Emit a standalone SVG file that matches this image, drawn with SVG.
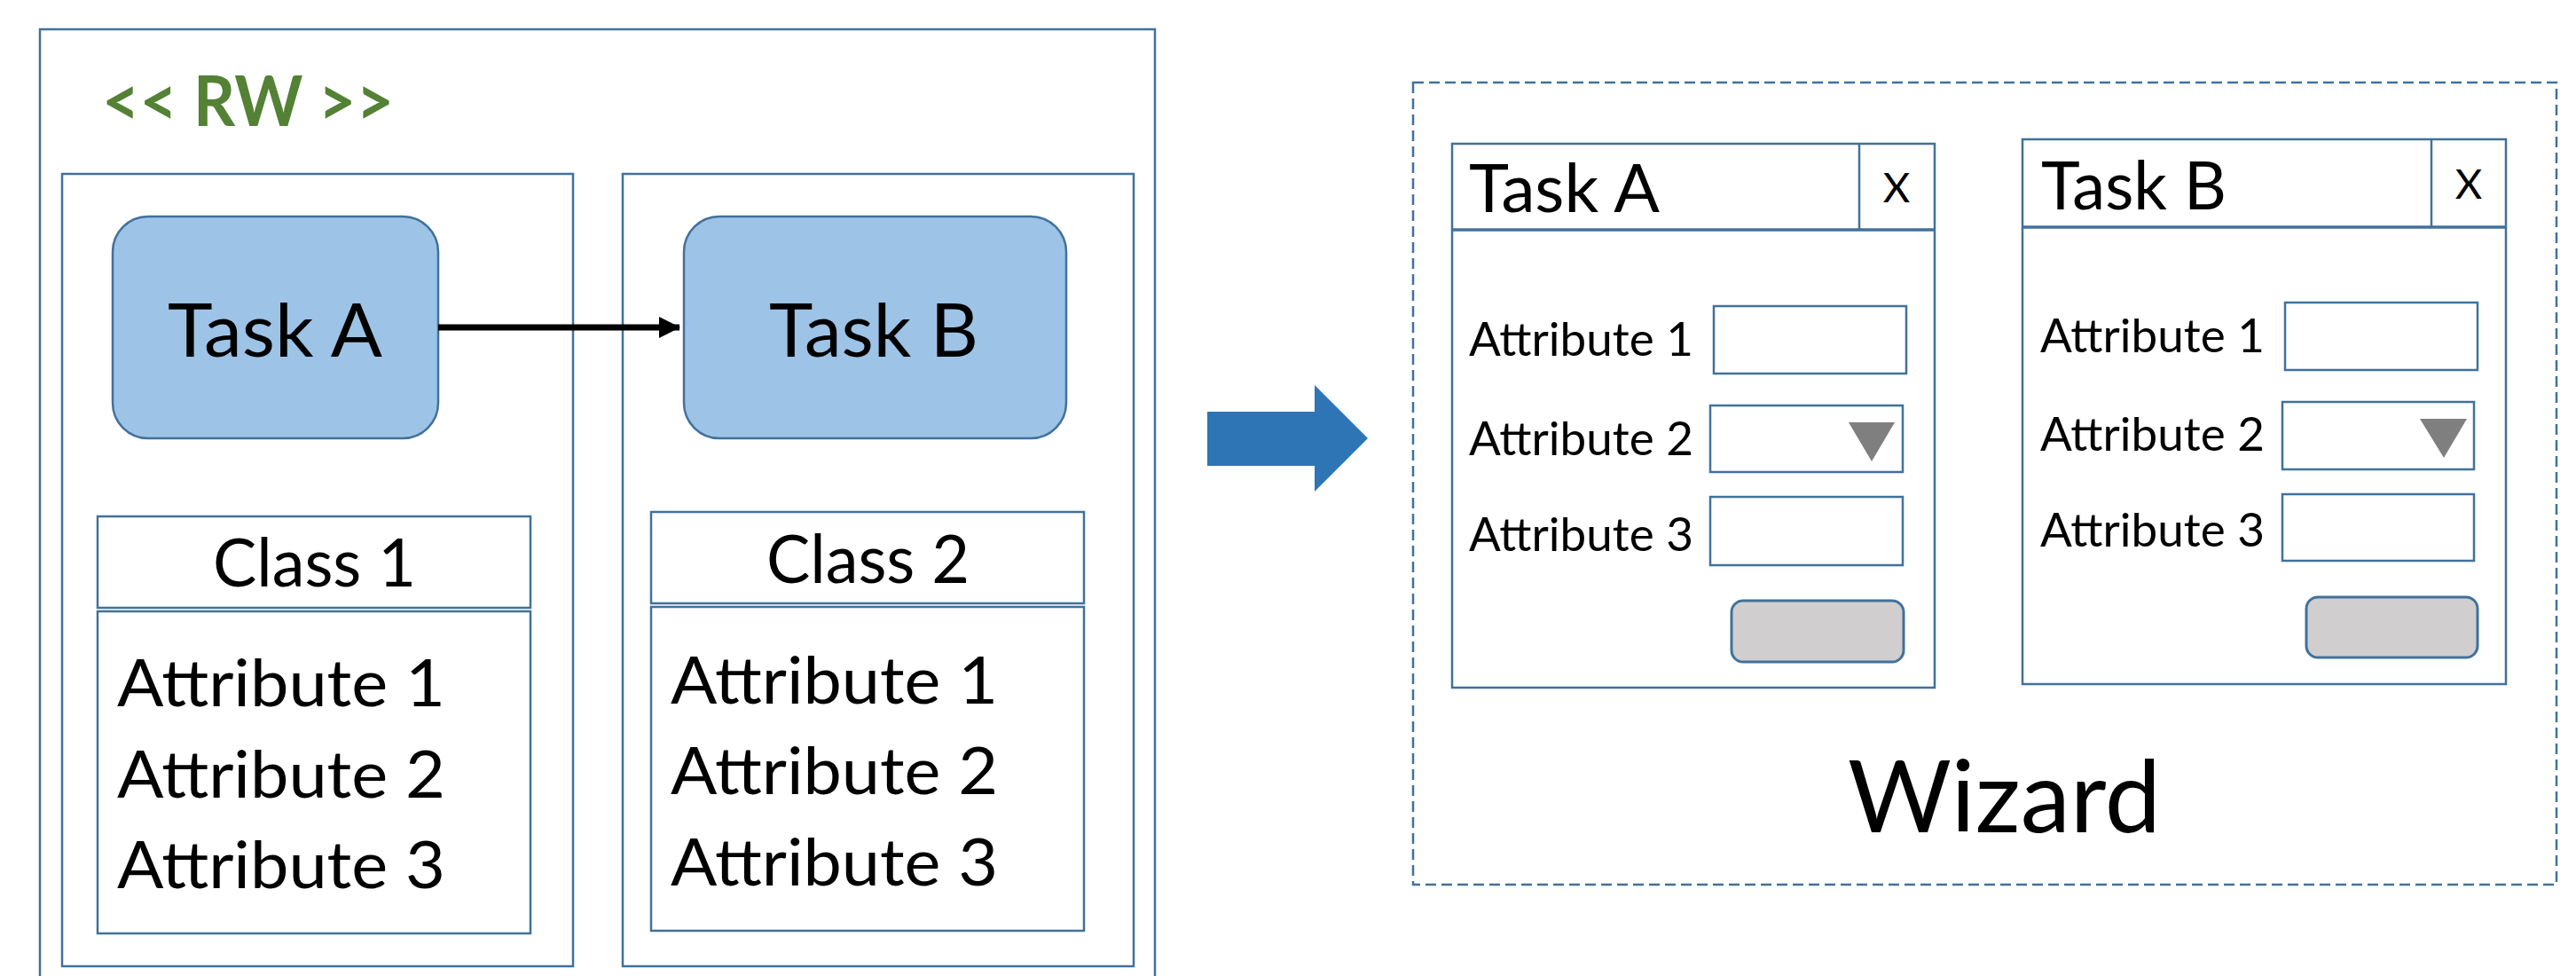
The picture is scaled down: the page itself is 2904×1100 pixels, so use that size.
<svg xmlns="http://www.w3.org/2000/svg" width="2904" height="1100" viewBox="0 0 2904 1100">
  <style>
    .frame { fill: #ffffff; stroke: #41719C; stroke-width: 2.5; }
    .task { fill: #9DC3E6; stroke: #41719C; stroke-width: 2.5; }
    .dash { fill: none; stroke: #41719C; stroke-width: 2.5; stroke-dasharray: 12 6; }
    .btn { fill: #D0CECE; stroke: #41719C; stroke-width: 3; }
    .tri { fill: #7F7F7F; }
    .t { font-family: Lato, "Liberation Sans", sans-serif; fill: #000000; }
    .rw { font-family: Lato, "Liberation Sans", sans-serif; font-weight: bold; fill: #538135; }
  </style>
  <defs>
    <marker id="head" viewBox="0 0 24 24" refX="23" refY="12" markerWidth="24" markerHeight="24" markerUnits="userSpaceOnUse" orient="auto">
      <path d="M0,0 L24,12 L0,24 Z" fill="#000000"/>
    </marker>
  </defs>

  <rect width="2904" height="1100" fill="#ffffff"/>

  <!-- RW container -->
  <g id="rw">
    <rect class="frame" x="45" y="33" width="1257" height="1090"/>
    <text class="rw" x="115" y="142" font-size="78" textLength="329" lengthAdjust="spacingAndGlyphs">&lt;&lt; RW &gt;&gt;</text>
  </g>

  <!-- left column -->
  <g id="column-a">
    <rect class="frame" x="70" y="196" width="576" height="893"/>
  </g>
  <g id="column-b">
    <rect class="frame" x="702" y="196" width="576" height="893"/>
  </g>

  <g id="task-a">
    <rect class="task" x="127" y="244" width="367" height="250" rx="40" ry="40"/>
    <text class="t" x="189" y="402" font-size="84" textLength="242" lengthAdjust="spacingAndGlyphs">Task A</text>
  </g>
  <g id="task-b">
    <rect class="task" x="771" y="244" width="431" height="250" rx="40" ry="40"/>
    <text class="t" x="867" y="402" font-size="84" textLength="236" lengthAdjust="spacingAndGlyphs">Task B</text>
  </g>

  <g id="class-1">
    <rect class="frame" x="110" y="582" width="488" height="103"/>
    <rect class="frame" x="110" y="689" width="488" height="363"/>
    <text class="t" x="240" y="661" font-size="75" textLength="229" lengthAdjust="spacingAndGlyphs">Class 1</text>
    <text class="t" x="132" y="796" font-size="73" textLength="370" lengthAdjust="spacingAndGlyphs">Attribute 1</text>
    <text class="t" x="132" y="899" font-size="73" textLength="370" lengthAdjust="spacingAndGlyphs">Attribute 2</text>
    <text class="t" x="132" y="1001" font-size="73" textLength="370" lengthAdjust="spacingAndGlyphs">Attribute 3</text>
  </g>
  <g id="class-2">
    <rect class="frame" x="734" y="577" width="488" height="103"/>
    <rect class="frame" x="734" y="684" width="488" height="365"/>
    <text class="t" x="864" y="657" font-size="75" textLength="229" lengthAdjust="spacingAndGlyphs">Class 2</text>
    <text class="t" x="756" y="793" font-size="73" textLength="369" lengthAdjust="spacingAndGlyphs">Attribute 1</text>
    <text class="t" x="756" y="895" font-size="73" textLength="369" lengthAdjust="spacingAndGlyphs">Attribute 2</text>
    <text class="t" x="756" y="998" font-size="73" textLength="369" lengthAdjust="spacingAndGlyphs">Attribute 3</text>
  </g>

  <!-- connectors -->
  <g id="connectors">
    <line x1="494" y1="369" x2="766" y2="369" stroke="#000000" stroke-width="7" marker-end="url(#head)"/>
    <path id="transform-arrow" d="M1361,464 L1482,464 L1482,434 L1542,494 L1482,554 L1482,525 L1361,525 Z" fill="#2E75B6"/>
  </g>

  <!-- wizard area -->
  <g id="wizard">
    <rect class="dash" x="1593" y="93" width="1289" height="904"/>
    <text class="t" x="2083" y="938" font-size="112" textLength="353" lengthAdjust="spacingAndGlyphs">Wizard</text>
  </g>

  <g id="dialog-a">
    <rect class="frame" x="1637" y="162" width="544" height="613"/>
    <line x1="1637" y1="259" x2="2181" y2="259" stroke="#41719C" stroke-width="3.5"/>
    <line x1="2096" y1="162" x2="2096" y2="259" stroke="#41719C" stroke-width="2.5"/>
    <text class="t" x="1656" y="239" font-size="75" textLength="215" lengthAdjust="spacingAndGlyphs">Task A</text>
    <text class="t" x="2138" y="228" font-size="47" text-anchor="middle">X</text>
    <text class="t" x="1656" y="401" font-size="53" textLength="253" lengthAdjust="spacingAndGlyphs">Attribute 1</text>
    <text class="t" x="1656" y="513" font-size="53" textLength="253" lengthAdjust="spacingAndGlyphs">Attribute 2</text>
    <text class="t" x="1656" y="621" font-size="53" textLength="253" lengthAdjust="spacingAndGlyphs">Attribute 3</text>
    <rect class="frame" x="1932" y="345" width="217" height="76"/>
    <rect class="frame" x="1928" y="457" width="217" height="75"/>
    <path class="tri" d="M2084,476 L2136,476 L2110,520 Z"/>
    <rect class="frame" x="1928" y="560" width="217" height="77"/>
    <rect class="btn" x="1952" y="677" width="194" height="69" rx="13" ry="13"/>
  </g>

  <g id="dialog-b">
    <rect class="frame" x="2280" y="157" width="545" height="614"/>
    <line x1="2280" y1="256" x2="2825" y2="256" stroke="#41719C" stroke-width="3.5"/>
    <line x1="2741" y1="157" x2="2741" y2="256" stroke="#41719C" stroke-width="2.5"/>
    <text class="t" x="2301" y="236" font-size="75" textLength="209" lengthAdjust="spacingAndGlyphs">Task B</text>
    <text class="t" x="2783" y="224" font-size="47" text-anchor="middle">X</text>
    <text class="t" x="2300" y="397" font-size="53" textLength="253" lengthAdjust="spacingAndGlyphs">Attribute 1</text>
    <text class="t" x="2300" y="508" font-size="53" textLength="253" lengthAdjust="spacingAndGlyphs">Attribute 2</text>
    <text class="t" x="2300" y="616" font-size="53" textLength="253" lengthAdjust="spacingAndGlyphs">Attribute 3</text>
    <rect class="frame" x="2576" y="341" width="217" height="76"/>
    <rect class="frame" x="2573" y="453" width="216" height="76"/>
    <path class="tri" d="M2728,472 L2781,472 L2755,516 Z"/>
    <rect class="frame" x="2573" y="557" width="216" height="75"/>
    <rect class="btn" x="2600" y="673" width="193" height="68" rx="13" ry="13"/>
  </g>
</svg>
